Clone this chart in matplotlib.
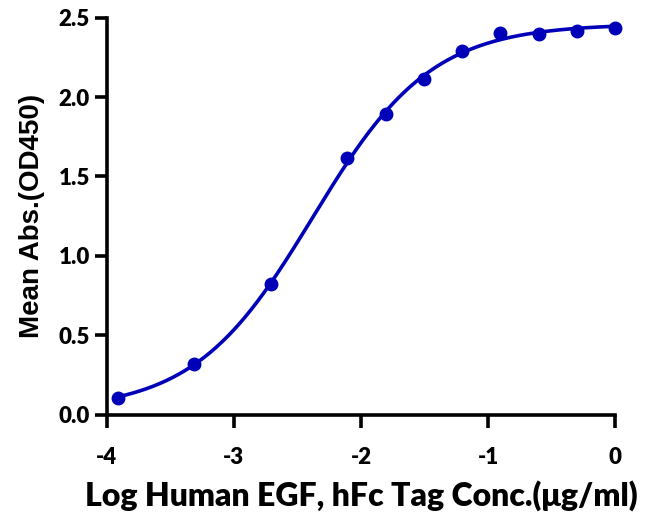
import numpy as np
import matplotlib
matplotlib.use("Agg")
from matplotlib import pyplot as plt

# measured points (log10 conc, OD450)
log_conc = [-3.913, -3.311, -2.709, -2.107, -1.806, -1.505, -1.204, -0.903, -0.602, -0.301, 0.0]
mean_abs = [0.108, 0.32, 0.824, 1.614, 1.892, 2.114, 2.292, 2.406, 2.396, 2.416, 2.437]

x_ticks = [-4, -3, -2, -1, 0]
y_ticks = [0.0, 0.5, 1.0, 1.5, 2.0, 2.5]
COLOR = '#0000B8'

def fit_4pl(x, y):
    # grid over logEC50 and hill, bottom/top from linear least squares
    best = None
    for ec in np.linspace(-4, 0, 401):
        for hill in np.linspace(0.3, 3, 271):
            s = 1.0 / (1.0 + 10 ** ((ec - x) * hill))
            A = np.column_stack([1 - s, s])
            coef, *_ = np.linalg.lstsq(A, y, rcond=None)
            err = np.sum((A @ coef - y) ** 2)
            if best is None or err < best[0]:
                best = (err, coef[0], coef[1], ec, hill)
    return best[1:]

x = np.asarray(log_conc)
y = np.asarray(mean_abs)
bottom, top, ec50, hill = fit_4pl(x, y)
xs = np.linspace(x.min(), x.max(), 300)
ys = bottom + (top - bottom) / (1 + 10 ** ((ec50 - xs) * hill))

plt.rcParams['font.family'] = ['Lato', 'DejaVu Sans']
fig = plt.figure(figsize=(6.47, 5.19), dpi=100)
ax = fig.add_axes([0.165, 0.201, 0.786, 0.765])
ax.plot(xs, ys, color=COLOR, lw=2.6, zorder=2)
ax.plot(x, y, 'o', color=COLOR, ms=9, zorder=3, clip_on=False)

ax.set_xlim(-4, 0)
ax.set_ylim(0, 2.5)
ax.set_xticks(x_ticks)
ax.set_xticklabels([str(t) for t in x_ticks], fontweight=800)
ax.set_yticks(y_ticks)
ax.set_yticklabels(['%.1f' % t for t in y_ticks], fontweight=800)
for s in ['top', 'right']:
    ax.spines[s].set_visible(False)
for s in ['left', 'bottom']:
    ax.spines[s].set_linewidth(2.6)
ax.tick_params(width=2.6, length=9, labelsize=16)
ax.tick_params(axis='x', pad=14)
ax.tick_params(axis='y', pad=3)

ax.set_ylabel('Mean Abs.(OD450)', fontsize=20, fontweight='bold',
              family=['Liberation Sans', 'DejaVu Sans'], labelpad=10)
ax.set_xlabel('Log Human EGF, hFc Tag Conc.(\u03bcg/ml)', fontsize=23,
              fontweight=800, labelpad=9)

fig.savefig('out.png', dpi=100)
